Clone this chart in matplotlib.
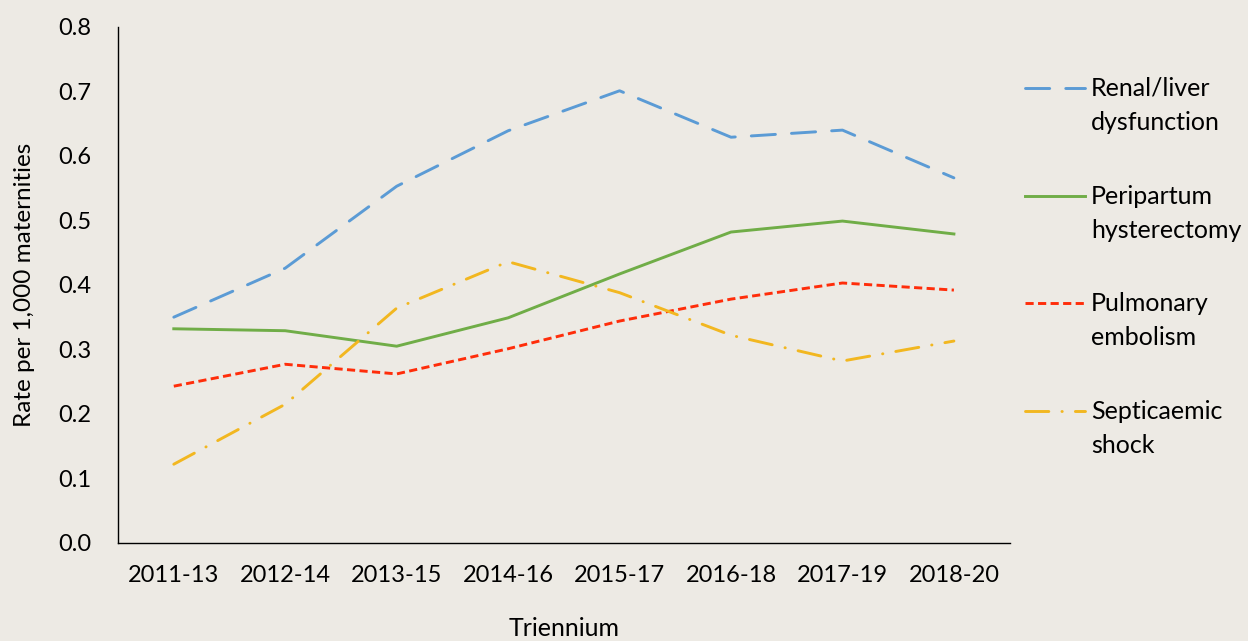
import matplotlib
matplotlib.use('Agg')
import matplotlib.pyplot as plt
from matplotlib.lines import Line2D

trienios = ['2011-13', '2012-14', '2013-15', '2014-16', '2015-17', '2016-18', '2017-19', '2018-20']
renal = [0.350, 0.426, 0.553, 0.639, 0.701, 0.629, 0.640, 0.566]
histerectomia = [0.332, 0.329, 0.305, 0.349, 0.417, 0.482, 0.499, 0.479]
embolia = [0.243, 0.277, 0.262, 0.301, 0.344, 0.378, 0.403, 0.392]
septico = [0.122, 0.215, 0.364, 0.436, 0.388, 0.322, 0.282, 0.313]
etiquetas = ['Renal/liver\ndysfunction', 'Peripartum\nhysterectomy', 'Pulmonary\nembolism', 'Septicaemic\nshock']

fondo = '#EDEAE4'
plt.rcParams['font.family'] = ['Lato', 'DejaVu Sans']

fig = plt.figure(figsize=(12.48, 6.41), dpi=100, facecolor=fondo)
ax = fig.add_axes([0.0946, 0.153, 0.7144, 0.805], facecolor=fondo)

x = list(range(len(trienios)))
lw = 2.1
estilos = [
    dict(color='#5B9BD5', linestyle=(0, (8.3, 5.5)), dash_capstyle='round'),
    dict(color='#70AD47', linestyle='-'),
    dict(color='#FF2D0A', linestyle=(0, (2.8, 1.5)), dash_capstyle='butt'),
    dict(color='#F2B720', linestyle=(0, (8, 4.5, 0.1, 4.5)), dash_capstyle='round'),
]
series = [renal, histerectomia, embolia, septico]
for datos, est in zip(series, estilos):
    ax.plot(x, datos, lw=lw, **est)

ax.set_xlim(-0.5, len(trienios) - 0.5)
ax.set_ylim(0, 0.8)
ax.set_xticks(x)
ax.set_xticklabels(trienios)
ax.set_yticks([i / 10 for i in range(9)])
ax.set_yticklabels(['%.1f' % (i / 10) for i in range(9)])
ax.tick_params(axis='both', length=0, labelsize=17, colors='black')
ax.tick_params(axis='x', pad=16)
ax.tick_params(axis='y', pad=19)
for s in ['top', 'right']:
    ax.spines[s].set_visible(False)
for s in ['left', 'bottom']:
    ax.spines[s].set_color('black')
    ax.spines[s].set_linewidth(1)

ax.set_xlabel('Triennium', fontsize=18, labelpad=22)
ax.set_ylabel('Rate per 1,000 maternities', fontsize=17.5, labelpad=17)

# leyenda a mano: la linea va a la altura de la primera linea del texto
ley_y = [88, 196, 303, 411]
for yy, est, txt in zip(ley_y, estilos, etiquetas):
    yf = 1 - yy / 641
    fig.add_artist(Line2D([1025 / 1248, 1085 / 1248], [yf, yf], lw=lw,
                          transform=fig.transFigure, **est))
    fig.text(1091 / 1248, yf + 0.0175, txt, fontsize=18, va='top', ha='left',
             linespacing=1.6)

fig.savefig('out.png', dpi=100, facecolor=fondo)
